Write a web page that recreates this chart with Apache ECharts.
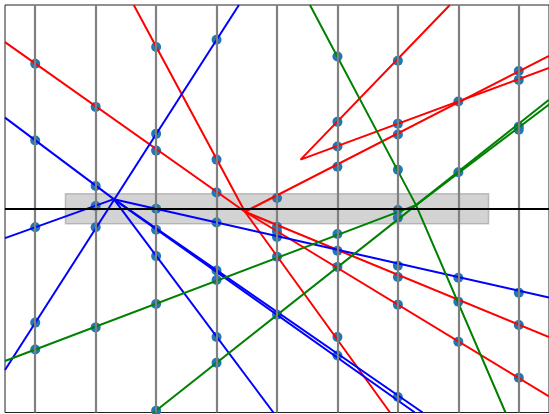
<!DOCTYPE html>
<html>
<head>
<meta charset="utf-8">
<script src="https://cdn.jsdelivr.net/npm/echarts@6/dist/echarts.min.js"></script>
<style>
  html, body { margin: 0; padding: 0; background: #fff; }
  #chart { width: 549px; height: 414px; }
</style>
</head>
<body>
<div id="chart"></div>
<script>
// x positions of the vertical guides (one column of dots on each)
const columns = [0, 1, 2, 3, 4, 5, 6, 7, 8];

// y values of the dots, one list per column
const dotColumns = [
  [2.42, 1.14, -0.31, -1.90, -2.35],
  [1.70, 0.38, 0.045, -0.31, -1.98],
  [2.70, 1.25, 0.97, 0.0, -0.35, -0.79, -1.59, -3.37],
  [2.82, 0.82, 0.27, -0.23, -1.03, -1.19, -2.14, -2.57],
  [0.18, -0.30, -0.38, -0.47, -0.80, -1.77],
  [2.54, 1.45, 1.04, 0.70, -0.42, -0.70, -0.97, -2.14, -2.45],
  [2.47, 1.42, 1.24, 0.65, -0.02, -0.15, -0.95, -1.14, -1.60, -3.14],
  [1.79, 0.61, -1.15, -1.55, -2.22],
  [2.30, 2.15, 1.37, 1.32, -1.40, -1.94, -2.82]
];

// polylines, as [x, y] vertices
const redLines = [
  [[-0.5, 2.78], [3.47, -0.05]],
  [[1.63, 3.4], [3.47, -0.05], [5.87, -3.4]],
  [[3.47, -0.05], [8.5, 2.55]],
  [[3.47, -0.05], [8.5, -2.14]],
  [[3.47, -0.05], [8.5, -3.13]],
  [[6.86, 3.4], [4.39, 0.82], [8.5, 2.35]]
];
const blueLines = [
  [[-0.5, 1.52], [1.30, 0.16]],
  [[-0.5, -0.49], [1.30, 0.16]],
  [[-0.5, -2.69], [3.37, 3.4]],
  [[1.30, 0.16], [8.5, -1.48]],
  [[1.30, 0.16], [3.94, -3.4]],
  [[1.30, 0.16], [6.28, -3.4]],
  [[1.30, 0.16], [6.41, -3.4]]
];
const greenLines = [
  [[-0.5, -2.54], [6.30, 0.06]],
  [[1.96, -3.4], [6.30, 0.06]],
  [[4.545, 3.4], [6.30, 0.06], [7.78, -3.4]],
  [[6.30, 0.06], [8.5, 1.82]],
  [[6.30, 0.06], [8.5, 1.74]]
];

// shaded band and zero line
const band = { x0: 0.5, x1: 7.5, y0: -0.25, y1: 0.25 };
const baseline = 0;

const chart = echarts.init(document.getElementById('chart'));

const dots = [];
columns.forEach((x, i) => {
  dotColumns[i].forEach(y => dots.push([x, y]));
});

function lineSeries(list, color) {
  return list.map(pts => ({
    type: 'line',
    data: pts,
    symbol: 'none',
    clip: true,
    silent: true,
    z: 4,
    lineStyle: { color: color, width: 2 }
  }));
}

const series = [
  {
    // guides: vertical gray lines, band, zero line
    type: 'line',
    data: [],
    z: 1,
    markLine: {
      silent: true,
      symbol: ['none', 'none'],
      label: { show: false },
      lineStyle: { color: '#808080', width: 2.2, type: 'solid' },
      data: columns.map(x => ({ xAxis: x }))
    },
    markArea: {
      silent: true,
      itemStyle: {
        color: 'rgba(128,128,128,0.35)',
        borderColor: 'rgba(128,128,128,0.45)',
        borderWidth: 1.5
      },
      data: [[{ xAxis: band.x0, yAxis: band.y0 }, { xAxis: band.x1, yAxis: band.y1 }]]
    }
  },
  {
    type: 'line',
    data: [],
    z: 2,
    markLine: {
      silent: true,
      symbol: ['none', 'none'],
      label: { show: false },
      lineStyle: { color: '#000', width: 2, type: 'solid' },
      data: [{ yAxis: baseline }]
    }
  },
  {
    type: 'scatter',
    data: dots,
    symbolSize: 10,
    z: 3,
    silent: true,
    itemStyle: { color: '#1f77b4', opacity: 1 }
  }
].concat(lineSeries(redLines, '#ff0000'))
 .concat(lineSeries(blueLines, '#0000ff'))
 .concat(lineSeries(greenLines, '#008000'));

chart.setOption({
  animation: false,
  backgroundColor: '#fff',
  grid: {
    left: 5, top: 5, width: 547, height: 407.5,
    show: true, borderColor: '#222', borderWidth: 1, backgroundColor: 'transparent'
  },
  xAxis: {
    type: 'value', min: -0.5, max: 8.5,
    axisLine: { show: false }, axisTick: { show: false },
    axisLabel: { show: false }, splitLine: { show: false }
  },
  yAxis: {
    type: 'value', min: -3.4, max: 3.4,
    axisLine: { show: false }, axisTick: { show: false },
    axisLabel: { show: false }, splitLine: { show: false }
  },
  series: series
});
</script>
</body>
</html>
